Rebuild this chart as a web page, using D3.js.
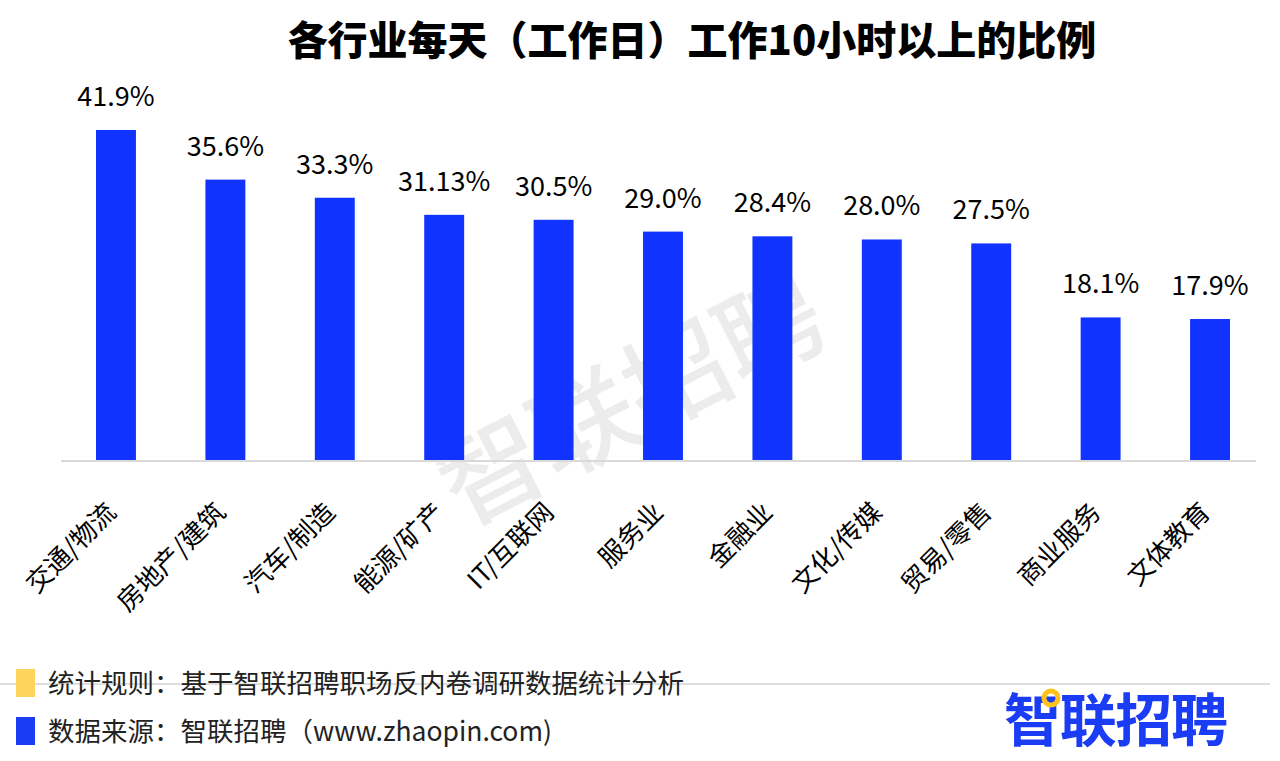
<!DOCTYPE html>
<html>
<head>
<meta charset="utf-8">
<script src="https://d3js.org/d3.v7.min.js"></script>
<style>
  html, body { margin: 0; padding: 0; background: #fff; }
  svg { display: block; font-family: "Noto Sans CJK SC", "Noto Sans", sans-serif; }
</style>
</head>
<body>
<script>
// chart data
const categories = ['交通/物流', '房地产/建筑', '汽车/制造', '能源/矿产', 'IT/互联网', '服务业',
  '金融业', '文化/传媒', '贸易/零售', '商业服务', '文体教育'];
const values = [41.9, 35.6, 33.3, 31.13, 30.5, 29.0, 28.4, 28.0, 27.5, 18.1, 17.9];
const valueLabels = ['41.9%', '35.6%', '33.3%', '31.13%', '30.5%', '29.0%', '28.4%', '28.0%', '27.5%', '18.1%', '17.9%'];
const legendItems = ['统计规则：基于智联招聘职场反内卷调研数据统计分析', '数据来源：智联招聘（www.zhaopin.com)'];
const legendColors = ['#FFD45C', '#1A3CF5'];

const width = 1280;
const height = 761;
const barColor = '#1133FF';

const svg = d3.select('body').append('svg')
  .attr('width', width)
  .attr('height', height);

// watermark behind everything
svg.append('text')
  .attr('transform', 'translate(635,408) rotate(-27)')
  .attr('text-anchor', 'middle')
  .attr('dominant-baseline', 'middle')
  .style('font-size', '104px')
  .style('font-weight', '500')
  .style('fill', '#000')
  .style('fill-opacity', 0.075)
  .text('智联招聘');

// title
svg.append('text')
  .attr('x', 692)
  .attr('y', 55)
  .attr('text-anchor', 'middle')
  .style('font-size', '40px')
  .style('font-weight', '900')
  .style('fill', '#000')
  .text('各行业每天（工作日）工作10小时以上的比例');

// scales
const x = d3.scaleBand()
  .domain(categories)
  .range([61, 1265])
  .paddingInner(0.635)
  .paddingOuter(0.32);

const baseY = 460;
const y = d3.scaleLinear()
  .domain([0, 41.9])
  .range([baseY, 130]);

// bars
svg.append('g').selectAll('rect')
  .data(values)
  .enter().append('rect')
  .attr('x', (d, i) => x(categories[i]))
  .attr('y', d => y(d))
  .attr('width', x.bandwidth())
  .attr('height', d => baseY - y(d))
  .attr('fill', barColor);

// value labels
svg.append('g').selectAll('text')
  .data(values)
  .enter().append('text')
  .attr('x', (d, i) => x(categories[i]) + x.bandwidth() / 2)
  .attr('y', d => y(d) - 24)
  .attr('text-anchor', 'middle')
  .style('font-size', '27px')
  .style('fill', '#000')
  .text((d, i) => valueLabels[i]);

// baseline
svg.append('line')
  .attr('x1', 61)
  .attr('x2', 1256)
  .attr('y1', baseY + 1)
  .attr('y2', baseY + 1)
  .attr('stroke', '#d9d9d9')
  .attr('stroke-width', 2);

// rotated category labels
svg.append('g').selectAll('text')
  .data(categories)
  .enter().append('text')
  .attr('transform', d => `translate(${x(d) + x.bandwidth() / 2 - 12},${baseY + 40}) rotate(-45)`)
  .attr('text-anchor', 'end')
  .attr('dy', '0.75em')
  .style('font-size', '26px')
  .style('fill', '#000')
  .text(d => d);

// footer separator
svg.append('line')
  .attr('x1', 0)
  .attr('x2', 1270)
  .attr('y1', 684)
  .attr('y2', 684)
  .attr('stroke', '#bfbfbf')
  .attr('stroke-width', 1);

// footer legend
const legend = svg.append('g').selectAll('g')
  .data(legendItems)
  .enter().append('g')
  .attr('transform', (d, i) => `translate(16,${669 + i * 48})`);

legend.append('rect')
  .attr('width', 19)
  .attr('height', 28)
  .attr('fill', (d, i) => legendColors[i]);

legend.append('text')
  .attr('x', 32)
  .attr('y', 14)
  .attr('dy', '0.36em')
  .style('font-size', '26.5px')
  .style('fill', '#222')
  .text(d => d);

// logo
const logo = svg.append('g').attr('transform', 'translate(1004,741)');
logo.append('text')
  .attr('x', 0)
  .attr('y', 0)
  .attr('textLength', 224)
  .style('font-size', '57px')
  .style('font-weight', 'bold')
  .style('fill', '#1A3CF5')
  .text('智联招聘');
logo.append('circle')
  .attr('cx', 47)
  .attr('cy', -43)
  .attr('r', 7)
  .attr('fill', 'none')
  .attr('stroke', '#FFC21A')
  .attr('stroke-width', 5);
</script>
</body>
</html>
